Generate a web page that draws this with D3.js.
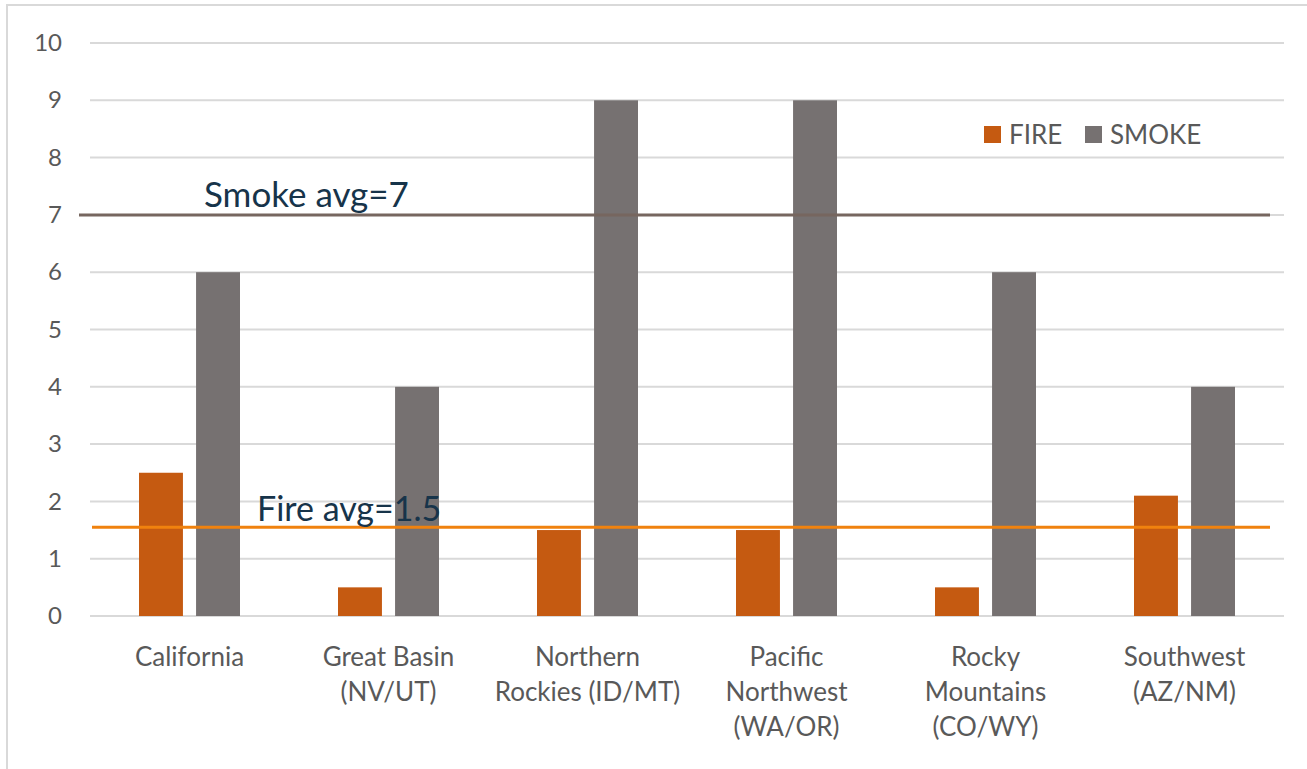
<!DOCTYPE html>
<html>
<head>
<meta charset="utf-8">
<script src="https://cdn.jsdelivr.net/npm/d3@7"></script>
<style>
  body { margin: 0; background: #fff; }
  svg { display: block; font-family: Lato, "Open Sans", sans-serif; }
</style>
</head>
<body>
<svg id="chart" width="1307" height="769"></svg>
<script>
// region names, one line per array entry
var regions = [
  ["California"],
  ["Great Basin", "(NV/UT)"],
  ["Northern", "Rockies (ID/MT)"],
  ["Pacific", "Northwest", "(WA/OR)"],
  ["Rocky", "Mountains", "(CO/WY)"],
  ["Southwest", "(AZ/NM)"]
];
var fire  = [2.5, 0.5, 1.5, 1.5, 0.5, 2.1];
var smoke = [6, 4, 9, 9, 6, 4];
var series = ["FIRE", "SMOKE"];
var yTicks = [0, 1, 2, 3, 4, 5, 6, 7, 8, 9, 10];
var fireAvg = 1.55, smokeAvg = 7;

var colors = { FIRE: "#c55a11", SMOKE: "#767171" };

var svg = d3.select("#chart");
var plotLeft = 90, plotRight = 1284, plotTop = 43, plotBottom = 616;

// outer frame
svg.append("rect")
  .attr("x", 7).attr("y", 5)
  .attr("width", 1310).attr("height", 780)
  .attr("fill", "none")
  .attr("stroke", "#d9d9d9")
  .attr("stroke-width", 2);

var x = d3.scaleBand()
  .domain(d3.range(regions.length))
  .range([plotLeft, plotRight]);

var x1 = d3.scaleBand()
  .domain(series)
  .range([49, 150])
  .paddingInner(0.23);

var y = d3.scaleLinear()
  .domain([0, 10])
  .range([plotBottom, plotTop]);

// gridlines
svg.append("g")
  .selectAll("line")
  .data(yTicks)
  .join("line")
  .attr("x1", plotLeft).attr("x2", plotRight)
  .attr("y1", function(d){ return y(d); })
  .attr("y2", function(d){ return y(d); })
  .attr("stroke", "#d9d9d9")
  .attr("stroke-width", 2);

// y axis labels
var yAxis = d3.axisLeft(y).tickValues(yTicks).tickSize(0).tickPadding(0);
var ya = svg.append("g")
  .attr("transform", "translate(62,0)")
  .call(yAxis);
ya.select(".domain").remove();
ya.selectAll("text")
  .attr("font-size", 24)
  .attr("font-family", "Lato, 'Open Sans', sans-serif")
  .attr("fill", "#595959");

// bars
var groups = svg.append("g")
  .selectAll("g")
  .data(regions.map(function(r, i){ return i; }))
  .join("g")
  .attr("transform", function(i){ return "translate(" + x(i) + ",0)"; });

groups.selectAll("rect")
  .data(function(i){ return [{k: "FIRE", v: fire[i]}, {k: "SMOKE", v: smoke[i]}]; })
  .join("rect")
  .attr("x", function(d){ return x1(d.k); })
  .attr("width", x1.bandwidth())
  .attr("y", function(d){ return y(d.v); })
  .attr("height", function(d){ return y(0) - y(d.v); })
  .attr("fill", function(d){ return colors[d.k]; });

// category labels
groups.append("text")
  .attr("x", x.bandwidth() / 2)
  .attr("y", 666)
  .attr("text-anchor", "middle")
  .attr("font-size", 26)
  .attr("fill", "#595959")
  .selectAll("tspan")
  .data(function(i){ return regions[i]; })
  .join("tspan")
  .attr("x", x.bandwidth() / 2)
  .attr("dy", function(d, j){ return j == 0 ? 0 : 35; })
  .text(function(d){ return d; });

// average lines
svg.append("line")
  .attr("x1", 79).attr("x2", 1270)
  .attr("y1", y(smokeAvg)).attr("y2", y(smokeAvg))
  .attr("stroke", "#76665f")
  .attr("stroke-width", 3);

svg.append("line")
  .attr("x1", 92).attr("x2", 1270)
  .attr("y1", y(fireAvg)).attr("y2", y(fireAvg))
  .attr("stroke", "#f0820e")
  .attr("stroke-width", 3);

svg.append("text")
  .attr("x", 204).attr("y", 207)
  .attr("font-size", 35)
  .attr("fill", "#17344a")
  .text("Smoke avg=7");

svg.append("text")
  .attr("x", 257).attr("y", 521)
  .attr("font-size", 34)
  .attr("fill", "#17344a")
  .text("Fire avg=1.5");

// legend
var legend = svg.append("g").attr("transform", "translate(984,126)");
var lx = [0, 101];
series.forEach(function(s, i){
  legend.append("rect")
    .attr("x", lx[i]).attr("y", 0)
    .attr("width", 17).attr("height", 17)
    .attr("fill", colors[s]);
  legend.append("text")
    .attr("x", lx[i] + 25).attr("y", 18)
    .attr("font-size", 26)
    .attr("fill", "#595959")
    .text(s);
});
</script>
</body>
</html>
